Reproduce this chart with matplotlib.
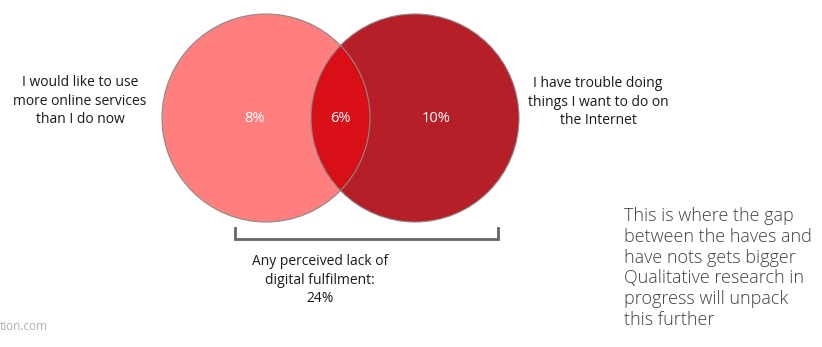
import matplotlib.pyplot as plt
from matplotlib.patches import Circle

# data
set_labels = ["I would like to use\nmore online services\nthan I do now",
              "I have trouble doing\nthings I want to do on\nthe Internet"]
only_left = 8
both = 6
only_right = 10
any_lack = 24
note = ("This is where the gap\nbetween the haves and\nhave nots gets bigger\n"
        "Qualitative research in\nprogress will unpack\nthis further")

plt.rcParams['font.family'] = ['Open Sans', 'DejaVu Sans']

fig = plt.figure(figsize=(8.22, 3.47), dpi=100)
ax = fig.add_axes([0, 0, 1, 1])
ax.set_xlim(0, 822)
ax.set_ylim(347, 0)
ax.set_aspect('equal')
ax.axis('off')

r = 104
cl = (266, 118)
cr = (415, 118)

ax.add_patch(Circle(cl, r, facecolor='#FF7F7F', edgecolor='none', zorder=1))
ax.add_patch(Circle(cr, r, facecolor='#B71F28', edgecolor='none', zorder=2))
# intersection: right circle clipped by the left one
inter = Circle(cr, r, facecolor='#D90F18', edgecolor='none', zorder=3)
ax.add_patch(inter)
clip = Circle(cl, r, transform=ax.transData)
inter.set_clip_path(clip)
for c in (cl, cr):
    ax.add_patch(Circle(c, r, facecolor='none', edgecolor='#8a8a8a', lw=0.8, zorder=4))

ax.text(254, 118, f"{only_left}%", color='white', ha='center', va='center', fontsize=10.5, zorder=5)
ax.text(340, 118, f"{both}%", color='white', ha='center', va='center', fontsize=10.5, zorder=5)
ax.text(436, 118, f"{only_right}%", color='white', ha='center', va='center', fontsize=10.5, zorder=5)

ax.text(80, 101, set_labels[0], ha='center', va='center', fontsize=10, color='#1a1a1a',
        linespacing=1.35)
ax.text(598, 102, set_labels[1], ha='center', va='center', fontsize=10, color='#1a1a1a',
        linespacing=1.35)

# bracket
ax.plot([235, 235, 498, 498], [228, 239, 239, 228], color='#666666', lw=2,
        solid_joinstyle='miter', zorder=1)
ax.text(320, 280, f"Any perceived lack of\ndigital fulfilment:\n{any_lack}%", ha='center',
        va='center', fontsize=10, color='#1a1a1a', linespacing=1.35)

ax.text(624, 268, note, ha='left', va='center', fontsize=13, color='#404040',
        fontweight='light', linespacing=1.2)

ax.text(0, 327, "tion.com", ha='left', va='center', fontsize=8.5, color='#b0b0b0')

fig.savefig('out.png', dpi=100)
